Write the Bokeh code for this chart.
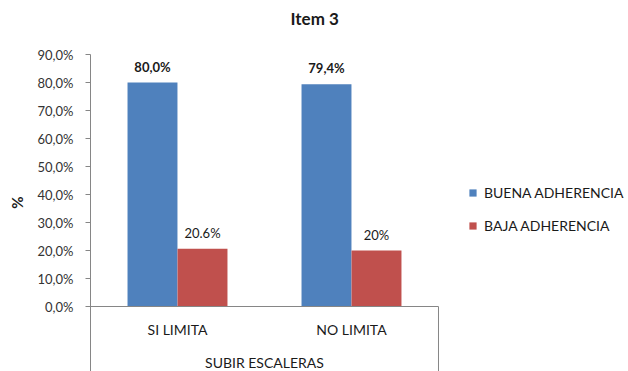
import numpy as np
from bokeh.plotting import figure
from bokeh.models import (ColumnDataSource, Range1d, LinearAxis, FixedTicker,
                          Legend, LegendItem)
from bokeh.transform import dodge
from bokeh.core.properties import value
from bokeh.embed import file_html
from bokeh.resources import INLINE

# data
categories = ["SI LIMITA", "NO LIMITA"]
buena = [80.0, 79.4]
baja = [20.6, 20.0]
buena_labels = ["80,0%", "79,4%"]
baja_labels = ["20.6%", "20%"]
series_names = ["BUENA ADHERENCIA", "BAJA ADHERENCIA"]
y_ticks = [0, 10, 20, 30, 40, 50, 60, 70, 80, 90]
y_tick_labels = ["0,0%", "10,0%", "20,0%", "30,0%", "40,0%", "50,0%",
                 "60,0%", "70,0%", "80,0%", "90,0%"]

FONT = "Lato"
BLUE = "#4F81BD"
RED = "#C0504D"
GREY = "#868686"
INK = "#1a1a1a"

# each category occupies one unit; centres at 0.5, 1.5
pos = np.arange(len(categories)) + 0.5
n_cat = len(categories)
y_low, y_top = -23.2, 97.5
x_end = n_cat * 1.546   # leaves room on the right for the legend

src = ColumnDataSource(dict(pos=pos, cat=categories, buena=buena, baja=baja,
                            buena_lbl=buena_labels, baja_lbl=baja_labels))

p = figure(width=628, height=371, output_backend="svg", toolbar_location=None,
           x_range=Range1d(0, x_end), y_range=Range1d(y_low, y_top),
           x_axis_location=None,
           min_border_left=90, min_border_right=0,
           min_border_top=33, min_border_bottom=0)
p.background_fill_color = "white"
p.border_fill_color = "white"
p.outline_line_color = None
p.xgrid.visible = False
p.ygrid.visible = False

# title
p.title.text = "Item 3"
p.title.align = "left"
p.title.offset = 200
p.title.standoff = 10
p.title.text_font = FONT
p.title.text_font_size = "17px"
p.title.text_font_style = "bold"
p.title.text_color = INK

# y axis
ya = p.yaxis[0]
ya.ticker = FixedTicker(ticks=y_ticks)
ya.bounds = (y_low, max(y_ticks))
ya.major_label_overrides = {t: s for t, s in zip(y_ticks, y_tick_labels)}
ya.minor_tick_line_color = None
ya.major_tick_in = 0
ya.major_tick_out = 5
ya.major_tick_line_color = GREY
ya.axis_line_color = GREY
ya.major_label_text_font = FONT
ya.major_label_text_font_size = "13px"
ya.major_label_text_color = "#333333"
ya.major_label_standoff = 12
ya.axis_label = "%"
ya.axis_label_text_font = FONT
ya.axis_label_text_font_size = "15px"
ya.axis_label_text_font_style = "bold"
ya.axis_label_text_color = INK
ya.axis_label_standoff = 9

# category axis drawn at y = 0, limited to the category span
xa = LinearAxis(fixed_location=0, bounds=(0, n_cat))
xa.ticker = FixedTicker(ticks=list(pos))
xa.major_label_overrides = {float(x): c for x, c in zip(pos, categories)}
xa.minor_tick_line_color = None
xa.major_tick_in = 0
xa.major_tick_out = 0
xa.axis_line_color = GREY
xa.major_label_text_font = FONT
xa.major_label_text_font_size = "14px"
xa.major_label_text_color = INK
xa.major_label_standoff = 14
xa.axis_label = "SUBIR ESCALERAS"
xa.axis_label_text_font = FONT
xa.axis_label_text_font_size = "14px"
xa.axis_label_text_font_style = "normal"
xa.axis_label_text_color = INK
xa.axis_label_standoff = 13
p.add_layout(xa, "below")

# closing line at the right edge of the category area
p.segment(x0=[n_cat], x1=[n_cat], y0=[0], y1=[y_low], line_color=GREY, line_width=1)

# bars
off = 0.1437
bw = 0.287
r1 = p.vbar(x=dodge("pos", -off), top="buena", width=bw, bottom=0,
            source=src, fill_color=BLUE, line_color=None)
r2 = p.vbar(x=dodge("pos", off), top="baja", width=bw, bottom=0,
            source=src, fill_color=RED, line_color=None)

# value labels
p.text(x=dodge("pos", -off), y="buena", text="buena_lbl", source=src,
       y_offset=-8, text_align="center", text_baseline="bottom",
       text_font=value(FONT), text_font_size="13px", text_font_style="bold",
       text_color=INK)
p.text(x=dodge("pos", off), y="baja", text="baja_lbl", source=src,
       y_offset=-8, text_align="center", text_baseline="bottom",
       text_font=value(FONT), text_font_size="13px", text_font_style="normal",
       text_color=INK)

legend = Legend(items=[LegendItem(label=series_names[0], renderers=[r1]),
                       LegendItem(label=series_names[1], renderers=[r2])],
                location=(378, 136), orientation="vertical",
                glyph_width=9, glyph_height=9, label_standoff=7,
                label_height=20, spacing=13, padding=0, margin=0,
                border_line_color=None, background_fill_alpha=0,
                label_text_font=FONT, label_text_font_size="14px",
                label_text_color=INK)
p.add_layout(legend)

open("out.html", "w").write(file_html(p, INLINE))
